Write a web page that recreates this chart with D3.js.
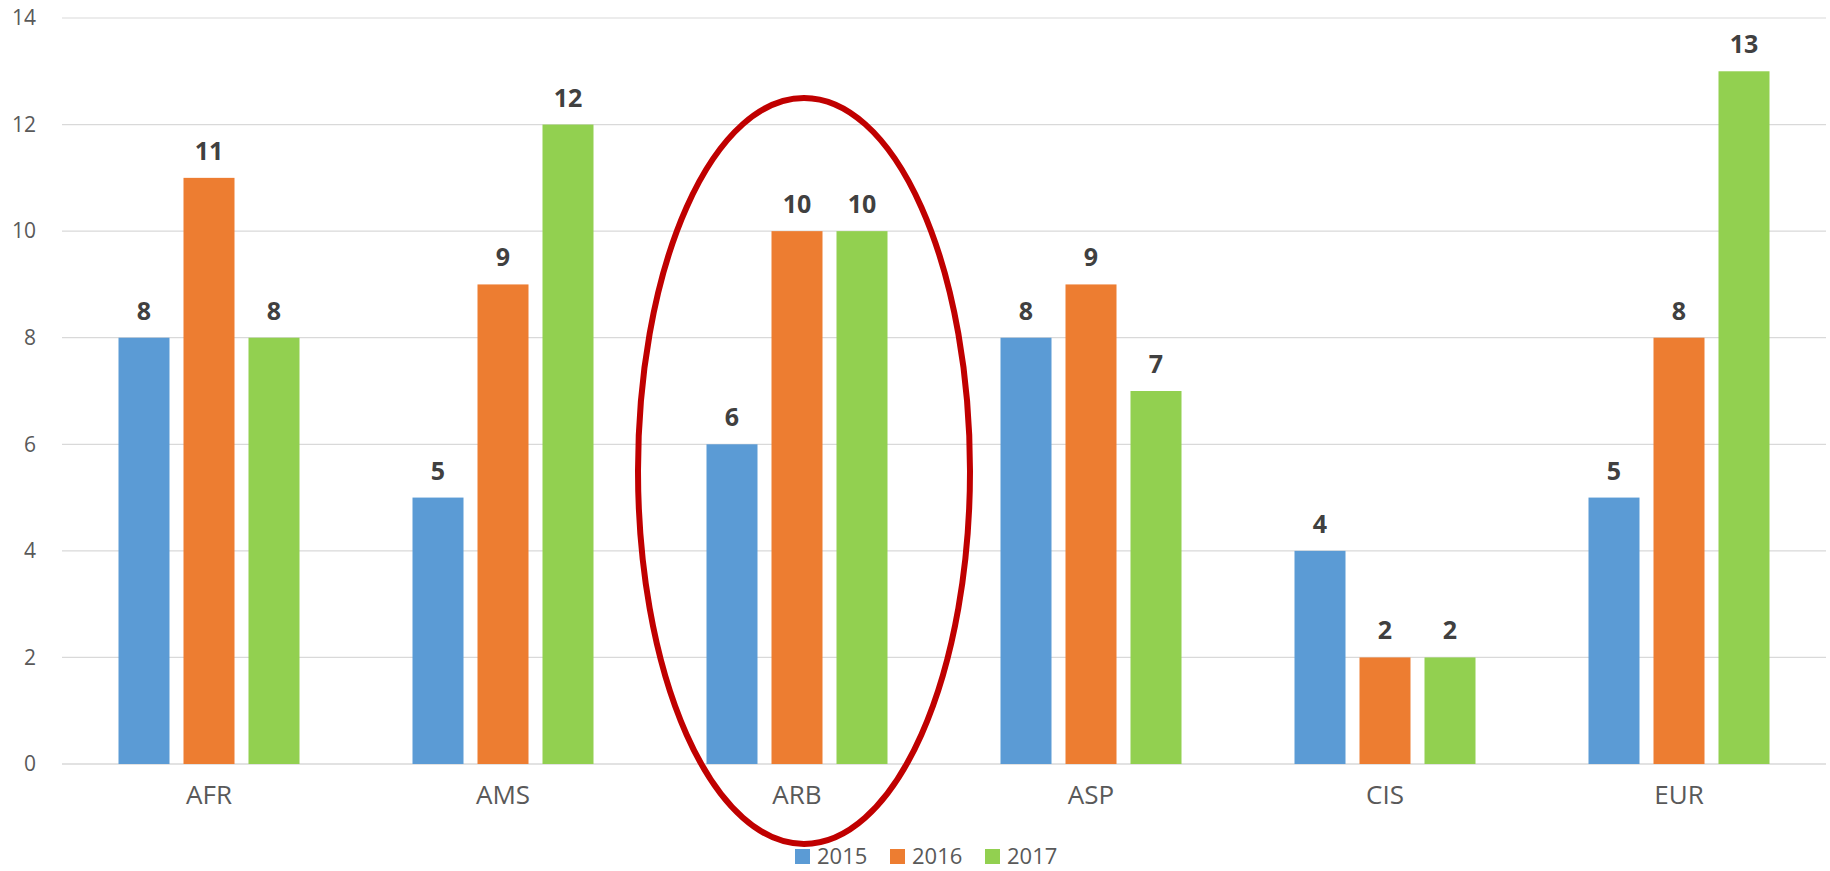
<!DOCTYPE html>
<html>
<head>
<meta charset="utf-8">
<script src="https://cdn.jsdelivr.net/npm/d3@7"></script>
<style>
  body { margin: 0; background: #fff; }
  svg { display: block; font-family: "Open Sans", sans-serif; }
</style>
</head>
<body>
<div id="chart"></div>
<script>
// data
const regions = ["AFR", "AMS", "ARB", "ASP", "CIS", "EUR"];
const years = ["2015", "2016", "2017"];
const values2015 = [8, 5, 6, 8, 4, 5];
const values2016 = [11, 9, 10, 9, 2, 8];
const values2017 = [8, 12, 10, 7, 2, 13];
const yTicks = [0, 2, 4, 6, 8, 10, 12, 14];
const colors = ["#5B9BD5", "#ED7D31", "#92D050"];
const highlight = "ARB";

const svgWidth = 1830;
const svgHeight = 871;
const margin = { top: 18, right: 4, bottom: 107, left: 62 };
const width = svgWidth - margin.left - margin.right;
const height = svgHeight - margin.top - margin.bottom;

const svg = d3.select("#chart").append("svg")
  .attr("width", svgWidth)
  .attr("height", svgHeight);

const chartGroup = svg.append("g")
  .attr("transform", `translate(${margin.left}, ${margin.top})`);

const series = [values2015, values2016, values2017];
const table = regions.map((r, i) => ({
  region: r,
  vals: years.map((yr, j) => ({ year: yr, value: series[j][i], idx: j }))
}));

// scales
const x0 = d3.scaleBand().domain(regions).range([0, width]).paddingInner(0).paddingOuter(0);
const groupWidth = 181;
const x1 = d3.scaleBand().domain(years)
  .range([(x0.bandwidth() - groupWidth) / 2, (x0.bandwidth() + groupWidth) / 2])
  .paddingInner(14 / 65).paddingOuter(0);
const y = d3.scaleLinear().domain([0, 14]).range([height, 0]);

// gridlines
chartGroup.append("g")
  .selectAll("line")
  .data(yTicks)
  .enter()
  .append("line")
  .attr("x1", 0)
  .attr("x2", width)
  .attr("y1", d => y(d))
  .attr("y2", d => y(d))
  .attr("stroke", "#D9D9D9")
  .attr("stroke-width", d => d === 0 ? 1.5 : 1.2);

// y axis labels
const leftAxis = d3.axisLeft(y).tickValues(yTicks).tickSize(0).tickPadding(26);
const yAxis = chartGroup.append("g").call(leftAxis);
yAxis.select(".domain").remove();
yAxis.selectAll("text")
  .attr("font-size", "21px")
  .attr("fill", "#595959")
  .attr("font-family", "Open Sans, sans-serif");

// x axis labels
const bottomAxis = d3.axisBottom(x0).tickSize(0).tickPadding(22);
const xAxis = chartGroup.append("g")
  .attr("transform", `translate(0, ${height})`)
  .call(bottomAxis);
xAxis.select(".domain").remove();
xAxis.selectAll("text")
  .attr("font-size", "26px")
  .attr("fill", "#595959")
  .attr("font-family", "Open Sans, sans-serif");

// bars
const groups = chartGroup.selectAll(".grp")
  .data(table)
  .enter()
  .append("g")
  .attr("class", "grp")
  .attr("transform", d => `translate(${x0(d.region)}, 0)`);

groups.selectAll("rect")
  .data(d => d.vals)
  .enter()
  .append("rect")
  .attr("x", d => x1(d.year))
  .attr("y", d => y(d.value))
  .attr("width", x1.bandwidth())
  .attr("height", d => height - y(d.value))
  .attr("fill", d => colors[d.idx]);

groups.selectAll(".lbl")
  .data(d => d.vals)
  .enter()
  .append("text")
  .attr("class", "lbl")
  .attr("x", d => x1(d.year) + x1.bandwidth() / 2)
  .attr("y", d => y(d.value) - 18)
  .attr("text-anchor", "middle")
  .attr("font-size", "25px")
  .attr("font-weight", "bold")
  .attr("fill", "#404040")
  .text(d => d.value);

// highlight ellipse around ARB
chartGroup.append("ellipse")
  .attr("cx", x0(highlight) + x0.bandwidth() / 2 + 7)
  .attr("cy", y(5.5))
  .attr("rx", 166)
  .attr("ry", y(0) - y(7))
  .attr("fill", "none")
  .attr("stroke", "#C00000")
  .attr("stroke-width", 6);

// legend
const legend = svg.append("g")
  .attr("transform", "translate(795, 849)");

const items = legend.selectAll("g")
  .data(years)
  .enter()
  .append("g")
  .attr("transform", (d, i) => `translate(${i * 95}, 0)`);

items.append("rect")
  .attr("width", 15)
  .attr("height", 15)
  .attr("fill", (d, i) => colors[i]);

items.append("text")
  .attr("x", 22)
  .attr("y", 15)
  .attr("font-size", "22px")
  .attr("fill", "#595959")
  .text(d => d);
</script>
</body>
</html>
